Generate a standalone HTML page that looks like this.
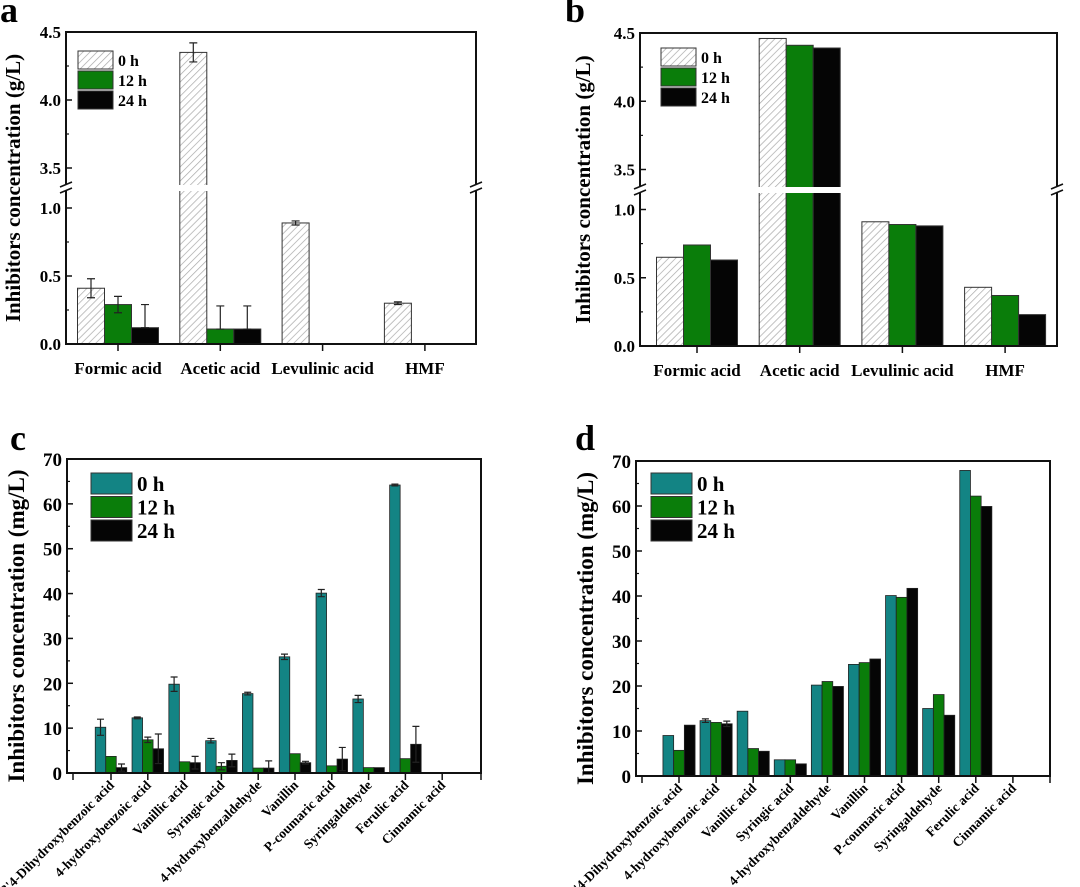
<!DOCTYPE html>
<html><head><meta charset="utf-8">
<style>
html,body{margin:0;padding:0;background:#fff;}
svg{display:block;font-family:"Liberation Serif",serif;font-weight:bold;}
</style></head>
<body>
<svg id="fig" width="1080" height="887" viewBox="0 0 1080 887" xmlns="http://www.w3.org/2000/svg">
<defs>
<pattern id="hatch" patternUnits="userSpaceOnUse" width="5" height="5" patternTransform="rotate(45)">
<rect width="5" height="5" fill="#fff"/>
<line x1="0" y1="0" x2="0" y2="5" stroke="#a8a8a8" stroke-width="1.4"/>
</pattern>
</defs>
</svg>
<script>
// ---- data panel a (g/L) ----
const catsAB = ["Formic acid","Acetic acid","Levulinic acid","HMF"];
const a0 = [0.41,4.35,0.89,0.30];
const a12 = [0.29,0.11,0,0];
const a24 = [0.12,0.11,0,0];
const a0err = [0.07,0.07,0.015,0.01];
const a12err = [0.06,0.17,0,0];
const a24err = [0.17,0.17,0,0];
// ---- data panel b (g/L) ----
const b0 = [0.65,4.46,0.91,0.43];
const b12 = [0.74,4.41,0.89,0.37];
const b24 = [0.63,4.39,0.88,0.23];
const upperTicks = ["3.5","4.0","4.5"];
const lowerTicks = ["0.0","0.5","1.0"];
// ---- data panel c (mg/L) ----
const catsCD = ["3'4-Dihydroxybenzoic acid","4-hydroxybenzoic acid","Vanillic acid","Syringic acid","4-hydroxybenzaldehyde","Vanillin","P-coumaric acid","Syringaldehyde","Ferulic acid","Cinnamic acid"];
const c0 = [10.2,12.3,19.8,7.2,17.7,25.9,40.1,16.5,64.2,0];
const c12 = [3.7,7.4,2.5,1.5,1.1,4.3,1.6,1.2,3.2,0];
const c24 = [1.2,5.4,2.3,2.8,1.1,2.3,3.1,1.2,6.4,0];
const c0err = [1.8,0.2,1.6,0.5,0.3,0.6,0.8,0.8,0.2,0];
const c12err = [0,0.6,0,0.8,0,0,0,0,0,0];
const c24err = [0.8,3.3,1.4,1.4,1.6,0.3,2.6,0,4.0,0];
// ---- data panel d (mg/L) ----
const d0 = [9.0,12.3,14.4,3.6,20.2,24.8,40.1,15.0,67.9,0];
const d12 = [5.7,11.9,6.1,3.6,21.0,25.2,39.7,18.1,62.2,0];
const d24 = [11.3,11.6,5.5,2.7,19.9,26.0,41.7,13.5,59.9,0];
const d0err = [0,0.4,0,0,0,0,0,0,0,0];
const d12err = [0,0,0,0,0,0,0,0,0,0];
const d24err = [0,0.6,0,0,0,0,0,0,0,0];
const cdTicks = [0,10,20,30,40,50,60,70];
const legendLabels = ["0 h","12 h","24 h"];

const NS="http://www.w3.org/2000/svg";
const svg=document.getElementById('fig');
function mk(tag,attrs,parent){const e=document.createElementNS(NS,tag);for(const k in attrs)e.setAttribute(k,attrs[k]);(parent||svg).appendChild(e);return e;}
function txt(s,attrs,parent){const e=mk('text',attrs,parent);e.textContent=s;return e;}

function errBar(g,x,yTop,yLow,yHigh,cap){
  const e=mk('path',{d:`M${x},${yLow}V${yHigh}M${x-cap},${yHigh}H${x+cap}M${x-cap},${yLow}H${x+cap}`,stroke:'#222','stroke-width':1.2,fill:'none'},g);
  
  
}

// ---------- broken-axis panels a & b ----------
function brokenPanel(opt){
  const g=mk('g',{});
  
  
  const {L,R,T,B,gapT,gapB,k}=opt;
  const y=v=> v>=2 ? T+(4.5-v)*k : B-v*k;
  const fills=['url(#hatch)','#0a7d0a','#050505'];
  const series=[opt.s0,opt.s12,opt.s24];
  const errs=opt.errs;
  const bw=opt.bw;
  catsAB.forEach((c,i)=>{
    const cx=opt.x0+i*opt.step;
    series.forEach((s,j)=>{
      const v=s[i]; if(v<=0) return;
      const x=cx-1.5*bw+j*bw;
      let top=y(v);
      const r=mk('rect',{x:x,y:top,width:bw,height:B-top,fill:fills[j],stroke:'#333','stroke-width':1},g);
      
      
      if(errs&&errs[j][i]>0){
        const e=errs[j][i];
        errBar(g,x+bw/2,top,e<v?y(Math.max(v-e,0)):top,y(v+e),4);
      }
    });
  });
  mk('rect',{x:L-2,y:gapT,width:R-L+4,height:gapB-gapT,fill:'#fff'},g);
  mk('path',{d:`M${L},${gapT}V${T}H${R}V${gapT}M${L},${gapB}V${B}H${R}V${gapB}`,stroke:'#111','stroke-width':2,fill:'none'},g);
  [L,R].forEach(xx=>{
    const s=mk('path',{d:`M${xx-6},${gapT+2}L${xx+6},${gapT-3}M${xx-6},${gapB+2}L${xx+6},${gapB-3}`,stroke:'#111','stroke-width':1.6},g);
    
    
  });
  upperTicks.concat(lowerTicks).forEach(t=>{
    const yy=y(parseFloat(t));
    mk('line',{x1:L,x2:L+6,y1:yy,y2:yy,stroke:'#111','stroke-width':1.5},g);
    const tl=txt(t,{x:L-5,y:yy+6,'text-anchor':'end','font-size':17},g);
    
    
  });
  [3.75,4.25,0.25,0.75].forEach(v=>{const yy=y(v);mk('line',{x1:L,x2:L+3,y1:yy,y2:yy,stroke:'#111','stroke-width':1.2},g);});
  catsAB.forEach((c,i)=>{
    const cx=opt.x0+i*opt.step;
    mk('line',{x1:cx,x2:cx,y1:B,y2:B+7,stroke:'#111','stroke-width':1.5},g);
    const tl=txt(c,{x:cx,y:B+30,'text-anchor':'middle','font-size':17},g);
    
    
  });
  const yt=txt('Inhibitors concentration (g/L)',{x:0,y:0,'text-anchor':'middle','font-size':21,transform:`translate(${opt.titleX},${(T+B)/2}) rotate(-90)`},g);
  
  
  const pl=txt(opt.letter,{x:opt.letterX,y:22,'font-size':36},g);
  
  
  const lg=mk('g',{},g);
  
  
  legendLabels.forEach((l,j)=>{
    const yy=opt.legY+j*20;
    const sw=mk('rect',{x:opt.legX,y:yy,width:35,height:18,fill:fills[j],stroke:'#333','stroke-width':1},lg);
    
    
    const t=txt(l,{x:opt.legX+40,y:yy+15,'font-size':16},lg);
    
    
  });
}

brokenPanel({name:'panel-a',letter:'a',letterX:0,L:66,R:476,T:32,B:344,gapT:185,gapB:191,k:136,x0:118,step:102.3,bw:27,
  s0:a0,s12:a12,s24:a24,errs:[a0err,a12err,a24err],titleX:20,legX:78,legY:51});
brokenPanel({name:'panel-b',letter:'b',letterX:565,L:640,R:1057,T:33,B:346,gapT:187,gapB:193,k:136.5,x0:697,step:102.7,bw:27,
  s0:b0,s12:b12,s24:b24,errs:null,titleX:590,legX:661,legY:48});

// ---------- panels c & d ----------
function mgPanel(opt){
  const g=mk('g',{});
  
  
  const {L,R,T,B}=opt;
  const k=(B-T)/70;
  const y=v=>B-v*k;
  const fills=['#138484','#0a7d0a','#050505'];
  const series=[opt.s0,opt.s12,opt.s24];
  const bw=opt.bw;
  catsCD.forEach((c,i)=>{
    const cx=opt.x0+i*opt.step;
    series.forEach((s,j)=>{
      const v=s[i]; if(v<=0) return;
      const x=cx-1.5*bw+j*bw;
      const top=y(v);
      const r=mk('rect',{x:x,y:top,width:bw,height:B-top,fill:fills[j],stroke:'#222','stroke-width':0.8},g);
      
      
      const e=opt.errs[j][i];
      if(e>0){errBar(g,x+bw/2,top,y(Math.max(v-e,0)),y(v+e),3.5);}
    });
  });
  mk('rect',{x:L,y:T,width:R-L,height:B-T,fill:'none',stroke:'#111','stroke-width':2},g);
  cdTicks.forEach(t=>{
    const yy=y(t);
    mk('line',{x1:L,x2:L+6,y1:yy,y2:yy,stroke:'#111','stroke-width':1.5},g);
    if(t<70){const ym=y(t+5);mk('line',{x1:L,x2:L+3,y1:ym,y2:ym,stroke:'#111','stroke-width':1.2},g);}
    const tl=txt(String(t),{x:L-5,y:yy+7,'text-anchor':'end','font-size':19},g);
    
    
  });
  const xs=[L+6].concat(catsCD.map((c,i)=>opt.x0+i*opt.step)).concat([R]);
  xs.forEach(xx=>mk('line',{x1:xx,x2:xx,y1:B,y2:B+7,stroke:'#111','stroke-width':1.5},g));
  catsCD.forEach((c,i)=>{
    const cx=opt.x0+i*opt.step;
    const tl=txt(c,{x:0,y:0,'text-anchor':'end','font-size':13.5,transform:`translate(${cx+4},${B+13}) rotate(-45)`},g);
    
    
  });
  const yt=txt('Inhibitors concentration (mg/L)',{x:0,y:0,'text-anchor':'middle','font-size':23,transform:`translate(${opt.titleX},${(T+B)/2+10}) rotate(-90)`},g);
  
  
  const pl=txt(opt.letter,{x:opt.letterX,y:450,'font-size':36},g);
  
  
  const lg=mk('g',{},g);
  
  
  legendLabels.forEach((l,j)=>{
    const yy=opt.legY+j*23.5;
    const sw=mk('rect',{x:opt.legX,y:yy,width:41,height:21,fill:fills[j],stroke:'#333','stroke-width':1},lg);
    
    
    const t=txt(l,{x:opt.legX+46,y:yy+18,'font-size':21},lg);
    
    
  });
}
mgPanel({name:'panel-c',letter:'c',letterX:10,L:67,R:481,T:459,B:773,x0:111,step:36.8,bw:10.5,
  s0:c0,s12:c12,s24:c24,errs:[c0err,c12err,c24err],titleX:24,legX:91,legY:473});
mgPanel({name:'panel-d',letter:'d',letterX:575,L:636,R:1050,T:461,B:776,x0:679,step:37.1,bw:10.7,
  s0:d0,s12:d12,s24:d24,errs:[d0err,d12err,d24err],titleX:593,legX:651,legY:473});
</script>
</body></html>
